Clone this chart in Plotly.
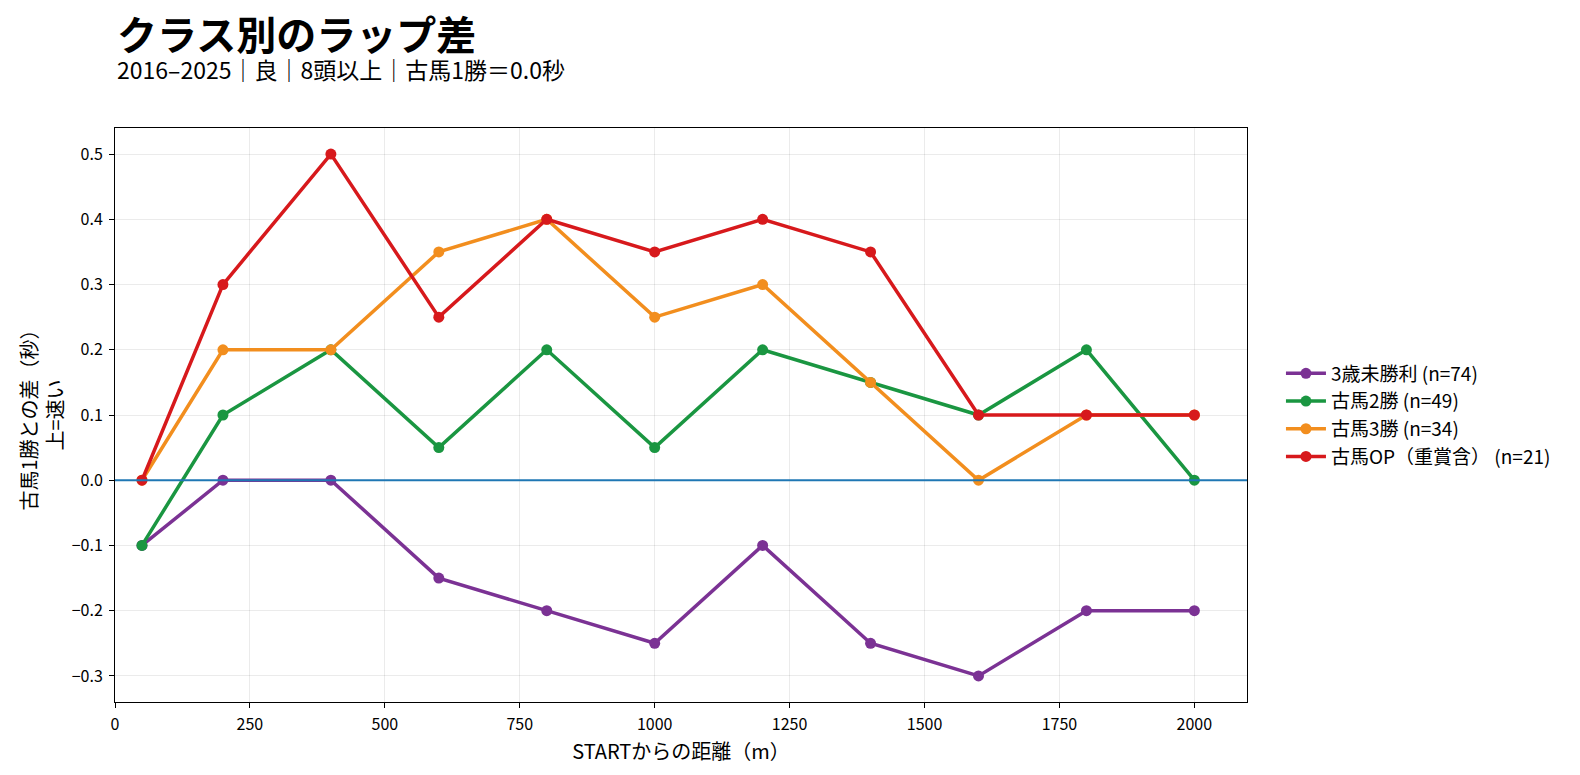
import plotly.graph_objects as go

FONT = "Noto Sans CJK JP"

distance = [50, 200, 400, 600, 800, 1000, 1200, 1400, 1600, 1800, 2000]

maiden_3yo = [-0.1, 0.0, 0.0, -0.15, -0.2, -0.25, -0.1, -0.25, -0.3, -0.2, -0.2]
class_2win = [-0.1, 0.1, 0.2, 0.05, 0.2, 0.05, 0.2, 0.15, 0.1, 0.2, 0.0]
class_3win = [0.0, 0.2, 0.2, 0.35, 0.4, 0.25, 0.3, 0.15, 0.0, 0.1, 0.1]
class_open = [0.0, 0.3, 0.5, 0.25, 0.4, 0.35, 0.4, 0.35, 0.1, 0.1, 0.1]

series_names = ["3歳未勝利 (n=74)", "古馬2勝 (n=49)", "古馬3勝 (n=34)", "古馬OP（重賞含） (n=21)"]
series_colors = ["#7b3294", "#1a9641", "#f28e1e", "#d7191c"]

x_ticks = [0, 250, 500, 750, 1000, 1250, 1500, 1750, 2000]
y_ticks = [-0.3, -0.2, -0.1, 0.0, 0.1, 0.2, 0.3, 0.4, 0.5]

fig = go.Figure()

for name, vals, col in zip(series_names,
                           [maiden_3yo, class_2win, class_3win, class_open],
                           series_colors):
    fig.add_trace(go.Scatter(
        x=distance, y=vals, name=name, mode="lines+markers",
        line=dict(color=col, width=3.5),
        marker=dict(color=col, size=11),
    ))

# baseline: 古馬1勝 = 0 (drawn over the series, as in the original)
fig.add_shape(type="line", xref="x domain", yref="y", x0=0, x1=1, y0=0, y1=0,
              line=dict(color="#1f77b4", width=2), layer="above")

axis_common = dict(
    showline=True, linecolor="black", linewidth=1, mirror=True,
    ticks="outside", ticklen=5, tickcolor="black", ticklabelstandoff=3,
    showgrid=True, gridcolor="rgba(0,0,0,0.08)", gridwidth=1,
    zeroline=False, tickfont=dict(size=16, color="black"), automargin=False,
)

fig.update_xaxes(range=[0, 2097.5], tickvals=x_ticks,
                 title=dict(text="STARTからの距離（m）", font=dict(size=20), standoff=10),
                 **axis_common)
fig.update_yaxes(range=[-0.34, 0.54], tickvals=y_ticks, tickformat=".1f",
                 title=dict(text="古馬1勝との差（秒）<br>上=速い", font=dict(size=20), standoff=2),
                 **axis_common)

fig.add_annotation(text="<b>クラス別のラップ差</b>", xref="paper", yref="paper",
                   x=0, y=1.166, xanchor="left", yanchor="middle",
                   showarrow=False, font=dict(size=40, color="black"))
fig.add_annotation(text="2016–2025｜良｜8頭以上｜古馬1勝＝0.0秒", xref="paper", yref="paper",
                   x=0, y=1.102, xanchor="left", yanchor="middle",
                   showarrow=False, font=dict(size=23, color="black"))

# page body has an 8px margin, so the figure is sized to fit inside the window
fig.update_layout(
    width=1564, height=759,
    margin=dict(l=107, r=325, t=120, b=65),
    paper_bgcolor="white", plot_bgcolor="white",
    font=dict(family=FONT, color="black"),
    legend=dict(x=1.03, y=0.5, xanchor="left", yanchor="middle",
                font=dict(size=19), bgcolor="rgba(0,0,0,0)", itemwidth=40),
    showlegend=True,
)

fig.write_html("out.html")
